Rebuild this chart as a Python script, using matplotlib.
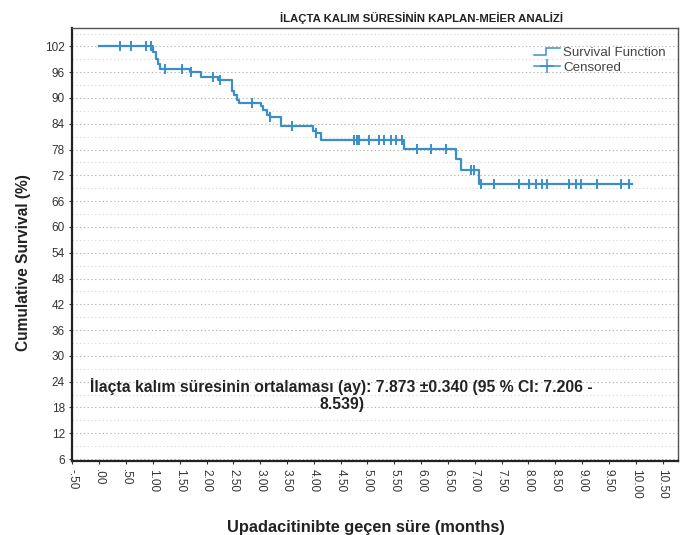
import numpy as np
import matplotlib
matplotlib.use("Agg")
import matplotlib.pyplot as plt
from matplotlib.lines import Line2D
from matplotlib.legend_handler import HandlerBase

plt.rcParams["font.family"] = ["Liberation Sans", "DejaVu Sans"]

# Kaplan-Meier step curve: event times (months) and survival after each step (%)
start_level = 102.0
event_times = [1.01, 1.05, 1.10, 1.14, 1.70, 1.89, 2.22, 2.47, 2.52, 2.57, 2.60,
               3.01, 3.06, 3.12, 3.19, 3.38, 3.99, 4.05, 4.13, 5.68, 6.65, 6.74, 7.07]
survival_after = [100.6, 99.1, 97.8, 96.8, 96.1, 94.8, 94.1, 91.7, 90.6, 89.6, 88.9,
                  88.2, 87.1, 86.1, 85.5, 83.4, 82.4, 81.9, 80.3, 78.2, 75.7, 73.3, 70.1]
end_time = 9.93

censored_times = [0.38, 0.60, 0.88, 0.97, 1.22, 1.55, 1.72, 2.13, 2.26, 2.84, 3.19,
                  3.60, 4.05, 4.74, 4.80, 4.84, 5.02, 5.21, 5.30, 5.43, 5.53, 5.64,
                  5.92, 6.18, 6.46, 6.93, 6.98, 7.11, 7.35, 7.82, 8.01, 8.14, 8.25,
                  8.34, 8.75, 8.88, 8.98, 9.28, 9.72, 9.87]

x_ticks = [-0.5 + 0.5 * i for i in range(23)]
x_tick_labels = ["-.50", ".00", ".50"] + [f"{v:.2f}" for v in x_ticks[3:]]
y_ticks = list(range(6, 103, 6))

title = "İLAÇTA KALIM SÜRESİNİN KAPLAN-MEİER ANALİZİ"
x_label = "Upadacitinibte geçen süre (months)"
y_label = "Cumulative Survival (%)"
summary = "İlaçta kalım süresinin ortalaması (ay): 7.873 ±0.340 (95 % CI: 7.206 -\n8.539)"

blue = "#3b8fc9"


class StepHandler(HandlerBase):
    """Legend key drawn as a small up-step line."""
    def create_artists(self, legend, orig_handle, xdescent, ydescent,
                       width, height, fontsize, trans):
        x0, x1 = -xdescent, -xdescent + width
        ylo, yhi = -ydescent + 0.15 * height, -ydescent + 0.85 * height
        xm = x0 + 0.45 * width
        line = Line2D([x0, xm, xm, x1], [ylo, ylo, yhi, yhi],
                      color=orig_handle.get_color(), lw=1.1, transform=trans)
        return [line]


fig = plt.figure(figsize=(6.83, 5.35), dpi=100)
ax = fig.add_axes([0.106, 0.138, 0.886, 0.809])

# step curve
xs = [0.0] + event_times + [end_time]
ys = [start_level] + survival_after + [survival_after[-1]]
ax.step(xs, ys, where="post", color=blue, lw=1.6, zorder=3)

# censor marks at the curve level
step_x = np.array(event_times)
step_y = np.array([start_level] + survival_after)
cy = step_y[np.searchsorted(step_x, censored_times, side="right")]
ax.plot(censored_times, cy, ls="none", marker="|", ms=7, mew=1.4,
        color=blue, zorder=4)

ax.set_xlim(-0.5, 10.78)
ax.set_ylim(5.5, 106.2)
ax.set_xticks(x_ticks)
ax.set_xticklabels(x_tick_labels, rotation=-90, fontsize=8.5, color="#333333")
ax.set_yticks(y_ticks)
ax.set_yticklabels([str(v) for v in y_ticks], fontsize=8.5, color="#333333")
ax.tick_params(axis="both", length=2.5, width=0.8, color="#333333", pad=3)

# dotted horizontal grid
for v in np.arange(6, 106, 3):
    strong = (v % 6 == 0)
    ax.axhline(v, color="#b5b5b5" if strong else "#dadada", lw=0.8,
               ls=(0, (1.2, 2.2)), zorder=1)

for side in ("left", "bottom"):
    ax.spines[side].set_linewidth(1.6)
    ax.spines[side].set_color("#222222")
for side in ("top", "right"):
    ax.spines[side].set_linewidth(1.0)
    ax.spines[side].set_color("#555555")

fig.text(0.617, 0.966, title, ha="center", va="center", fontsize=8.2,
         fontweight="bold", color="#222222")
ax.set_xlabel(x_label, fontsize=11.8, fontweight="bold", color="#222222")
ax.xaxis.set_label_coords(0.485, -0.135)
ax.set_ylabel(y_label, fontsize=11.2, fontweight="bold", color="#222222")
ax.yaxis.set_label_coords(-0.068, 0.46)

ax.text(0.445, 0.152, summary, transform=ax.transAxes, ha="center",
        va="center", fontsize=11.3, fontweight="bold", color="#222222",
        linespacing=1.15)

handles = [
    Line2D([0], [0], color=blue, lw=1.1),
    Line2D([0], [0], color=blue, lw=1.1, marker="+", ms=10, mew=1.1),
]
leg = ax.legend(handles, ["Survival Function", "Censored"], loc="upper right",
                bbox_to_anchor=(1.0, 0.985), frameon=False, fontsize=9.6,
                handlelength=2.0, handletextpad=0.2, labelspacing=0.15,
                handler_map={handles[0]: StepHandler()})
for t in leg.get_texts():
    t.set_color("#444444")

fig.savefig("out.png", dpi=100)
